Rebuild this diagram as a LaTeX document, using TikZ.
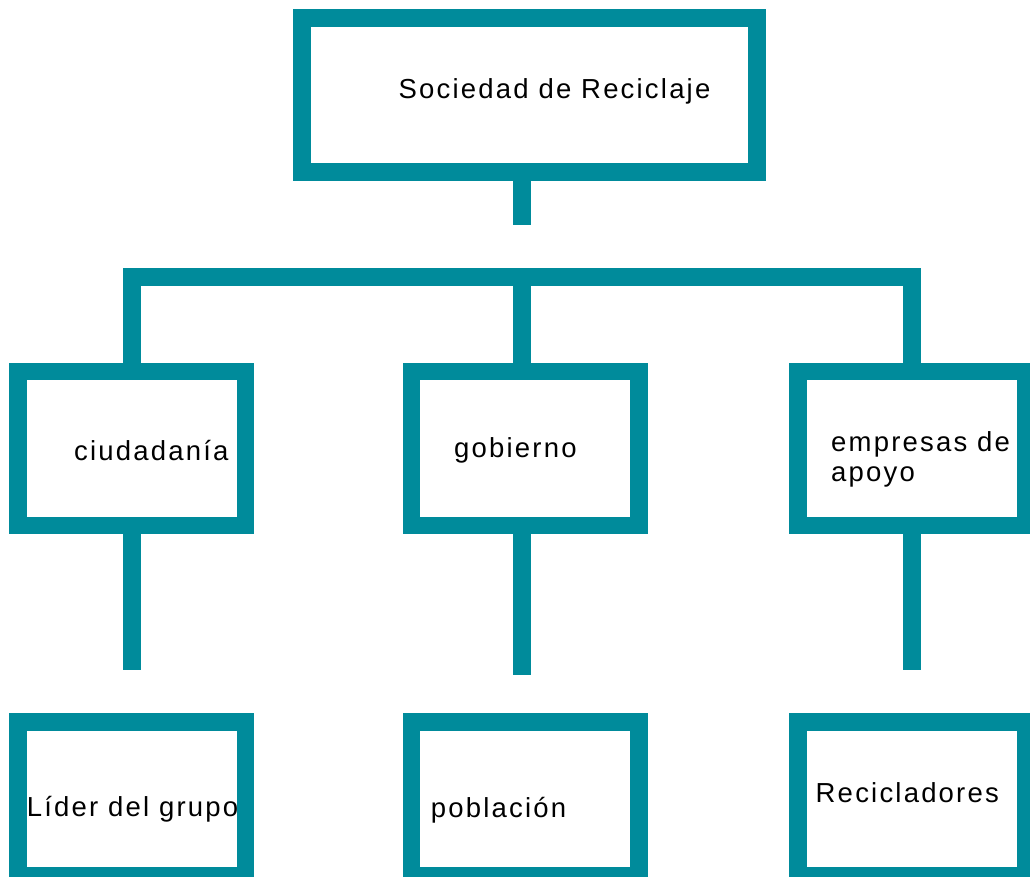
\documentclass[tikz,border=0pt]{standalone}
\usepackage{fontspec}
\setmainfont{Liberation Sans}[LetterSpace=8]
\definecolor{orgteal}{RGB}{0,139,155}

\begin{document}
\begin{tikzpicture}[x=1pt,y=-1pt,
  box/.style={draw=orgteal, line width=17.5pt, rectangle, inner sep=0pt,
    minimum width=227.5pt, minimum height=154pt},
  conn/.style={draw=orgteal, line width=17.5pt},
  lbl/.style={anchor=base west, inner sep=0pt, font=\fontsize{27.5}{29.5}\selectfont}]
  \useasboundingbox (0,0) rectangle (1030,877);

  %% top box
  \node[box, minimum width=455pt, minimum height=154.4pt] (soc) at (529.5,95) {};

  %% middle row
  \node[box] (ciud) at (131.75,448.5) {};
  \node[box] (gob) at (525,448.5) {};
  \node[box] (emp) at (911.75,448.5) {};

  %% bottom row
  \node[box] (lid) at (131.75,799) {};
  \node[box] (pob) at (525,799) {};
  \node[box] (rec) at (911.75,799) {};

  %% connectors
  \coordinate (socend) at (522,225.3);
  \coordinate (bar) at (522,277);
  \draw[conn] (socend |- soc.south) -- (socend);
  \draw[conn] (ciud.north) |- (bar) -| (emp.north);
  \draw[conn] (bar) -- (bar |- gob.north);
  \coordinate (lidend) at (131.75,669.7);
  \coordinate (pobend) at (522,675.3);
  \coordinate (recend) at (911.75,669.7);
  \draw[conn] (ciud.south) -- (lidend);
  \draw[conn] (pobend |- gob.south) -- (pobend);
  \draw[conn] (emp.south) -- (recend);

  %% labels
  \node[lbl] (soct) at (398.5,99) {Sociedad de Reciclaje};
  \node[lbl] (ciudt) at (74,460) {ciudadanía};
  \node[lbl] (gobt) at (454,457.5) {gobierno};
  \node[lbl, align=left] (empt) at (831,481) {empresas de\\apoyo};
  \node[lbl] (lidt) at (26.7,816) {Líder del grupo};
  \node[lbl] (pobt) at (430.7,817) {población};
  \node[lbl] (rect) at (815.5,802.3) {Recicladores};

\end{tikzpicture}
\end{document}
